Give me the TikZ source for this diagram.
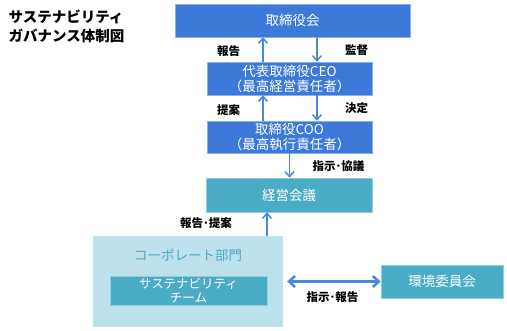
\documentclass[tikz,border=0pt]{standalone}
\usepackage{fontspec}
\setmainfont{Noto Sans CJK JP}
\usetikzlibrary{arrows.meta}
\definecolor{boardblue}{HTML}{3D79D9}
\definecolor{arrowblue}{HTML}{4A88DC}
\definecolor{teal}{HTML}{4BACC6}
\definecolor{paleteal}{HTML}{BCE1EB}

\begin{document}
\begin{tikzpicture}[x=1pt, y=-1pt,
    bluebox/.style={fill=boardblue, draw=boardblue!60!white, line width=0.6pt, text=white,
        font=\fontsize{13.5}{15}\selectfont, align=center, inner sep=0pt},
    tealbox/.style={bluebox, fill=teal, draw=teal!60!white},
    flow/.style={draw=arrowblue, line width=1.5pt, -{Straight Barb[length=5pt, width=9pt]}},
    note/.style={font=\fontsize{11.5}{13}\selectfont\bfseries}]
    \useasboundingbox (0,0) rectangle (507,331);

    \node[anchor=west, align=left, font=\fontsize{14.5}{19}\selectfont\bfseries] (title) at (5,26)
        {サステナビリティ\\ガバナンス体制図};

    \node[bluebox, minimum width=235pt, minimum height=33pt] (board) at (292.5,20.5) {取締役会};
    \node[bluebox, minimum width=165pt, minimum height=33pt] (ceo) at (289.5,78.5)
        {代表取締役CEO\\（最高経営責任者）};
    \node[bluebox, minimum width=165pt, minimum height=32pt] (coo) at (289.5,137)
        {取締役COO\\（最高執行責任者）};
    \node[tealbox, minimum width=166pt, minimum height=34pt] (mgmt) at (289,195) {経営会議};

    \node[fill=paleteal, minimum width=190pt, minimum height=91pt, inner sep=0pt] (corp) at (188,281.5) {};
    \node[text=teal, font=\fontsize{13.5}{15}\selectfont] (corplabel) at (188,255) {コーポレート部門};
    \node[tealbox, minimum width=157pt, minimum height=29pt, font=\fontsize{12.5}{14}\selectfont] (team) at (188.5,290.5)
        {サステナビリティ\\チーム};
    \node[tealbox, minimum width=122pt, minimum height=33pt] (env) at (442,281.5) {環境委員会};

    % vertical reporting lines
    \draw[flow] ([xshift=-26.5pt]ceo.north) -- ([xshift=-26.5pt]ceo.north |- board.south);
    \draw[flow] ([xshift=27.5pt]ceo.north |- board.south) -- ([xshift=27.5pt]ceo.north);
    \draw[flow] ([xshift=-26.5pt]coo.north) -- ([xshift=-26.5pt]coo.north |- ceo.south);
    \draw[flow] ([xshift=27.5pt]coo.north |- ceo.south) -- ([xshift=27.5pt]coo.north);
    \draw[flow] (coo.south) -- (coo.south |- mgmt.north);
    \draw[flow] ([xshift=79pt]corp.north) -- ([xshift=79pt]corp.north |- mgmt.south);
    \draw[flow, line width=2.5pt, {Straight Barb[length=6pt, width=11pt]}-{Straight Barb[length=6pt, width=11pt]}]
        ([xshift=4pt]corp.east) -- (env.west);

    \node[note] (report) at (228.5,51) {報告};
    \node[note] (supervise) at (356.5,50) {監督};
    \node[note] (propose) at (228.5,110) {提案};
    \node[note] (decide) at (356.5,108) {決定};
    \node[note] (direct) at (338.5,166) {指示･協議};
    \node[note] (reportup) at (206,223) {報告･提案};
    \node[note] (exchange) at (332.5,297) {指示･報告};
\end{tikzpicture}
\end{document}
